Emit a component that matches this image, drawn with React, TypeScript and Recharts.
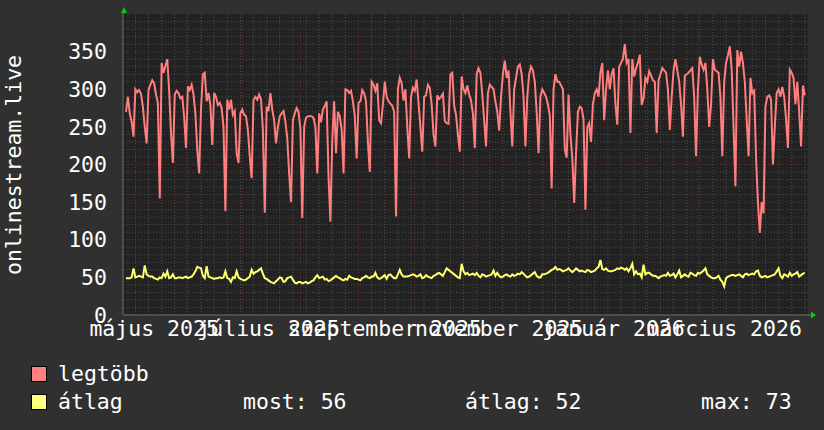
import React from 'react';
import { LineChart, Line, XAxis, YAxis, CartesianGrid, ReferenceLine, ReferenceDot } from 'recharts';

// daily values starting one day before 1 May 2025 (day -1)
const firstDay = -1;

const legtobb = [
  270, 290, 268, 257, 237, 300, 296, 299, 294, 277,
  250, 228, 299, 306, 312, 308, 293, 282, 155, 335,
  322, 331, 340, 299, 242, 202, 293, 298, 295, 288,
  290, 264, 222, 304, 299, 306, 293, 268, 220, 188,
  273, 320, 322, 284, 295, 279, 226, 295, 290, 279,
  282, 275, 250, 138, 286, 273, 286, 266, 271, 215,
  202, 268, 273, 266, 264, 246, 211, 182, 286, 290,
  286, 293, 286, 246, 136, 277, 271, 295, 273, 259,
  228, 250, 264, 268, 271, 257, 235, 188, 150, 259,
  268, 275, 270, 248, 129, 250, 262, 264, 264, 264,
  262, 250, 188, 268, 256, 273, 278, 284, 185, 124,
  233, 284, 215, 270, 264, 246, 188, 300, 299, 295,
  298, 284, 265, 208, 282, 284, 299, 295, 284, 230,
  190, 310, 306, 298, 308, 259, 255, 280, 310, 290,
  284, 281, 278, 270, 131, 300, 315, 308, 285, 300,
  250, 208, 290, 302, 298, 313, 282, 250, 217, 290,
  292, 306, 302, 280, 240, 224, 292, 287, 290, 294,
  258, 255, 254, 320, 322, 278, 266, 240, 217, 317,
  300, 295, 305, 293, 285, 268, 222, 320, 328, 322,
  293, 259, 224, 295, 306, 303, 300, 284, 270, 245,
  290, 320, 338, 315, 325, 270, 224, 300, 315, 330,
  333, 320, 290, 224, 290, 320, 330, 325, 310, 270,
  215, 290, 300, 295, 290, 280, 265, 168, 300, 320,
  310, 310, 305, 300, 220, 209, 293, 240, 209, 149,
  215, 270, 277, 275, 260, 140, 250, 255, 230, 280,
  295, 300, 290, 322, 335, 259, 300, 325, 300, 320,
  328, 280, 253, 330, 335, 340, 360, 335, 340, 242,
  340, 317, 328, 335, 346, 279, 288, 315, 310, 324,
  318, 312, 310, 242, 312, 320, 328, 325, 322, 300,
  246, 290, 325, 340, 325, 310, 280, 237, 318, 320,
  322, 325, 328, 290, 211, 300, 343, 333, 326, 335,
  300, 250, 280, 340, 326, 324, 322, 290, 211, 310,
  335, 345, 357, 326, 250, 171, 352, 330, 350, 335,
  310, 260, 211, 315, 295, 298, 209, 150, 109, 150,
  135, 277, 290, 292, 286, 200, 250, 295, 300, 290,
  303, 290, 260, 222, 326, 322, 315, 280, 310, 270,
  224, 305, 292,
];

const atlag = [
  49, 49, 49, 50, 62, 50, 51, 52, 51, 50,
  66, 54, 52, 51, 51, 49, 48, 47, 50, 49,
  55, 51, 58, 49, 50, 54, 49, 49, 50, 50,
  49, 50, 51, 49, 50, 51, 54, 58, 64, 63,
  62, 52, 49, 65, 51, 50, 49, 48, 49, 49,
  50, 49, 50, 58, 49, 48, 44, 50, 49, 58,
  50, 48, 47, 46, 47, 49, 51, 60, 55, 57,
  58, 60, 62, 55, 49, 48, 46, 44, 43, 42,
  45, 47, 50, 49, 44, 45, 49, 50, 51, 47,
  43, 42, 44, 44, 42, 43, 44, 42, 43, 45,
  46, 50, 53, 49, 50, 51, 47, 48, 45, 46,
  48, 50, 52, 50, 49, 47, 46, 48, 47, 52,
  50, 49, 48, 48, 47, 46, 49, 50, 52, 50,
  49, 51, 51, 56, 50, 48, 49, 51, 53, 48,
  53, 54, 51, 49, 49, 54, 60, 54, 51, 51,
  51, 52, 53, 54, 53, 51, 52, 54, 49, 50,
  53, 51, 50, 49, 52, 53, 55, 56, 54, 52,
  57, 62, 60, 58, 56, 54, 52, 50, 49, 68,
  58, 54, 56, 53, 54, 55, 53, 56, 52, 50,
  54, 53, 51, 52, 53, 54, 59, 52, 56, 52,
  50, 51, 53, 54, 52, 51, 54, 52, 53, 55,
  54, 57, 55, 52, 50, 51, 53, 55, 57, 52,
  50, 50, 54, 54, 55, 56, 58, 60, 61, 64,
  60, 61, 60, 58, 59, 60, 62, 59, 57, 59,
  62, 60, 58, 59, 58, 57, 60, 59, 57, 58,
  59, 62, 64, 73, 61, 60, 62, 59, 58, 58,
  59, 60, 62, 61, 63, 62, 60, 62, 58, 62,
  68, 54, 58, 54, 55, 50, 67, 54, 56, 56,
  54, 52, 52, 51, 49, 51, 52, 53, 52, 56,
  52, 53, 55, 50, 54, 59, 50, 52, 54, 52,
  51, 56, 55, 53, 52, 56, 55, 57, 59, 62,
  54, 52, 50, 49, 49, 50, 52, 47, 44, 38,
  49, 51, 52, 53, 53, 52, 53, 54, 52, 50,
  54, 55, 53, 54, 55, 54, 58, 59, 52, 50,
  51, 52, 50, 51, 52, 53, 54, 58, 62, 52,
  49, 54, 53, 51, 56, 52, 54, 55, 57, 51,
  53, 55, 56,
];

// x axis labels (days since 1 May 2025)
const labelDays = [14, 75, 137, 198, 259, 318];
const labelTexts = ['május 2025', 'július 2025', 'szeptember 2025', 'november 2025', 'január 2026', 'március 2026'];
// month starts (major grid) and Mondays (minor grid)
const monthStarts = [0, 31, 61, 92, 123, 153, 184, 214, 245, 276, 304, 335];
const firstMonday = 4;
const yTicks = [0, 50, 100, 150, 200, 250, 300, 350];

const xDomain: [number, number] = [-2.6, 362.7];
const yDomain: [number, number] = [0, 400];

const data = legtobb.map((v, i) => ({ day: firstDay + i, legtobb: v, atlag: atlag[i] }));

const weeks: number[] = [];
for (let d = firstMonday; d < xDomain[1]; d += 7) weeks.push(d);
const minorY: number[] = [];
for (let v = 10; v < 400; v += 10) if (v % 50 !== 0) minorY.push(v);
const majorY = [50, 100, 150, 200, 250, 300, 350];

const FONT = '"DejaVu Sans Mono", monospace';
const FS = 21.5;
const MINOR = '#4e4e4e';
const MAJOR = '#722c2c';
const AXIS = '#707070';
const ARROW = '#00d000';

const TopArrow = (p: any) => (
  <g>
    <line x1={p.cx} y1={p.cy} x2={p.cx} y2={p.cy - 2} stroke={AXIS} />
    <polygon points={`${p.cx - 2},${p.cy - 1} ${p.cx + 4},${p.cy - 1} ${p.cx + 1},${p.cy - 7}`} fill={ARROW} />
  </g>
);
const RightArrow = (p: any) => (
  <g>
    <line x1={p.cx} y1={p.cy} x2={p.cx + 3} y2={p.cy} stroke={AXIS} />
    <polygon points={`${p.cx + 3},${p.cy - 3.5} ${p.cx + 3},${p.cy + 3.5} ${p.cx + 8},${p.cy}`} fill={ARROW} />
  </g>
);

const legendText: React.CSSProperties = {
  position: 'absolute', color: '#ffffff', fontFamily: FONT, fontSize: FS, lineHeight: '24px', whiteSpace: 'pre',
};

export default function App() {
  return (
    <div style={{ position: 'fixed', left: 0, top: 0, width: 824, height: 430, background: '#303030', overflow: 'hidden' }}>
      <LineChart width={824} height={430} data={data} margin={{ top: 14, right: 16, left: 0, bottom: 0 }}>
        <CartesianGrid fill="#222222" stroke="none" horizontal={false} vertical={false} />
        {minorY.map((v) => (
          <ReferenceLine key={'my' + v} y={v} stroke={MINOR} strokeDasharray="1 2" />
        ))}
        {weeks.map((d) => (
          <ReferenceLine key={'wx' + d} x={d} stroke={MINOR} strokeDasharray="1 2" />
        ))}
        {majorY.map((v) => (
          <ReferenceLine key={'My' + v} y={v} stroke={MAJOR} strokeDasharray="1 2" />
        ))}
        {monthStarts.map((d) => (
          <ReferenceLine key={'Mx' + d} x={d} stroke={MAJOR} strokeDasharray="1 2" />
        ))}
        <XAxis
          dataKey="day"
          type="number"
          domain={xDomain}
          allowDataOverflow
          ticks={labelDays}
          interval={0}
          tickFormatter={(v: number) => labelTexts[labelDays.indexOf(v)] ?? ''}
          tick={{ fill: '#ffffff', fontSize: FS, fontFamily: FONT }}
          tickLine={false}
          tickSize={0}
          tickMargin={6}
          axisLine={{ stroke: AXIS }}
          height={115}
        />
        <YAxis
          type="number"
          domain={yDomain}
          allowDataOverflow
          ticks={yTicks}
          interval={0}
          tick={{ fill: '#ffffff', fontSize: FS, fontFamily: FONT }}
          tickLine={false}
          tickSize={0}
          tickMargin={16}
          axisLine={{ stroke: AXIS }}
          width={123}
        />
        <Line type="linear" dataKey="legtobb" stroke="#ff7f7f" strokeWidth={2} dot={false} isAnimationActive={false} />
        <Line type="linear" dataKey="atlag" stroke="#ffff70" strokeWidth={2} dot={false} isAnimationActive={false} />
        <ReferenceDot x={xDomain[0]} y={yDomain[1]} r={0} shape={TopArrow} ifOverflow="visible" />
        <ReferenceDot x={xDomain[1]} y={yDomain[0]} r={0} shape={RightArrow} ifOverflow="visible" />
      </LineChart>
      <div style={{ ...legendText, left: -106, top: 153, width: 240, textAlign: 'center', transform: 'rotate(-90deg)' }}>
        onlinestream.live
      </div>
      <div style={{ position: 'absolute', left: 31, top: 366, width: 14, height: 14, background: '#ff8080', border: '1px solid #000' }} />
      <div style={{ position: 'absolute', left: 31, top: 394, width: 14, height: 14, background: '#ffff80', border: '1px solid #000' }} />
      <div style={{ ...legendText, left: 58, top: 362 }}>legtöbb</div>
      <div style={{ ...legendText, left: 58, top: 390 }}>átlag</div>
      <div style={{ ...legendText, left: 243, top: 390 }}>most: 56</div>
      <div style={{ ...legendText, left: 465, top: 390 }}>átlag: 52</div>
      <div style={{ ...legendText, left: 701, top: 390 }}>max: 73</div>
    </div>
  );
}
